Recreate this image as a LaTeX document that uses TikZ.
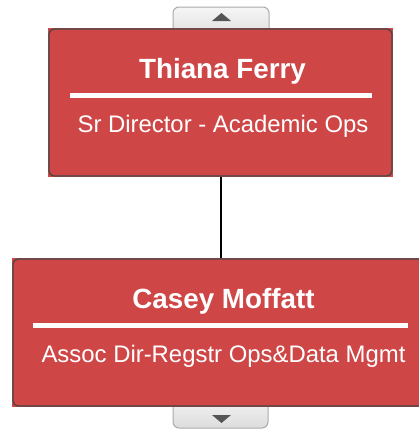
\documentclass[tikz,border=0pt]{standalone}
\usepackage{fontspec}
\setmainfont{Liberation Sans}
\definecolor{boxred}{RGB}{207,70,71}
\definecolor{boxedge}{RGB}{70,70,70}
\definecolor{tabedge}{RGB}{170,170,170}
\definecolor{tabtop}{RGB}{246,246,246}
\definecolor{tabbot}{RGB}{220,220,220}
\definecolor{arrowgray}{RGB}{85,85,85}
\tikzset{
  card/.style={draw=boxedge, line width=1.3pt, fill=boxred, rounded corners=5pt, inner sep=0pt},
  cardback/.style={fill=boxred, inner sep=0pt, draw=none},
  nametext/.style={text=white, font=\bfseries\fontsize{27.8}{30}\selectfont, anchor=base, inner sep=0pt},
  roletext/.style={text=white, font=\fontsize{23.9}{26}\selectfont, anchor=base, inner sep=0pt},
  rule/.style={draw=white, line width=5pt},
  tab/.style={draw=tabedge, line width=1pt, rounded corners=6pt, top color=tabtop, bottom color=tabbot},
  tri/.style={fill=arrowgray, draw=none},
  link/.style={draw=black, line width=1.8pt}
}
\begin{document}
\begin{tikzpicture}[x=1pt,y=-1pt]
\useasboundingbox (0,0) rectangle (418,431);
% tabs
\draw[tab] (173,7) rectangle (269,40);
\fill[tri] (212,21) -- (231,21) -- (221.5,13) -- cycle;
\draw[tab] (173,395) rectangle (268,428);
\fill[tri] (212,415) -- (231,415) -- (221.5,423) -- cycle;
% top card
\node[cardback, minimum width=345pt, minimum height=149pt] at (220.5,102.5) {};
\node[card, minimum width=343pt, minimum height=147pt] (top) at (220.5,102.5) {};
\node[nametext] (topname) at (222.5,78) {Thiana Ferry};
\draw[rule] (70,95) -- (372,95);
\node[roletext] (toprole) at (223,132) {Sr Director - Academic Ops};
% bottom card
\node[cardback, minimum width=420pt, minimum height=149pt] at (222,332.5) {};
\node[card, minimum width=418pt, minimum height=147pt] (bot) at (222,332.5) {};
\node[nametext] (botname) at (223.5,308) {Casey Moffatt};
\draw[rule] (33,325) -- (408,325);
\node[roletext] (botrole) at (223.5,362) {Assoc Dir-Regstr Ops\&Data Mgmt};
% connector
\draw[link] (top.south -| 221,0) -- (bot.north -| 221,0);
\end{tikzpicture}
\end{document}
